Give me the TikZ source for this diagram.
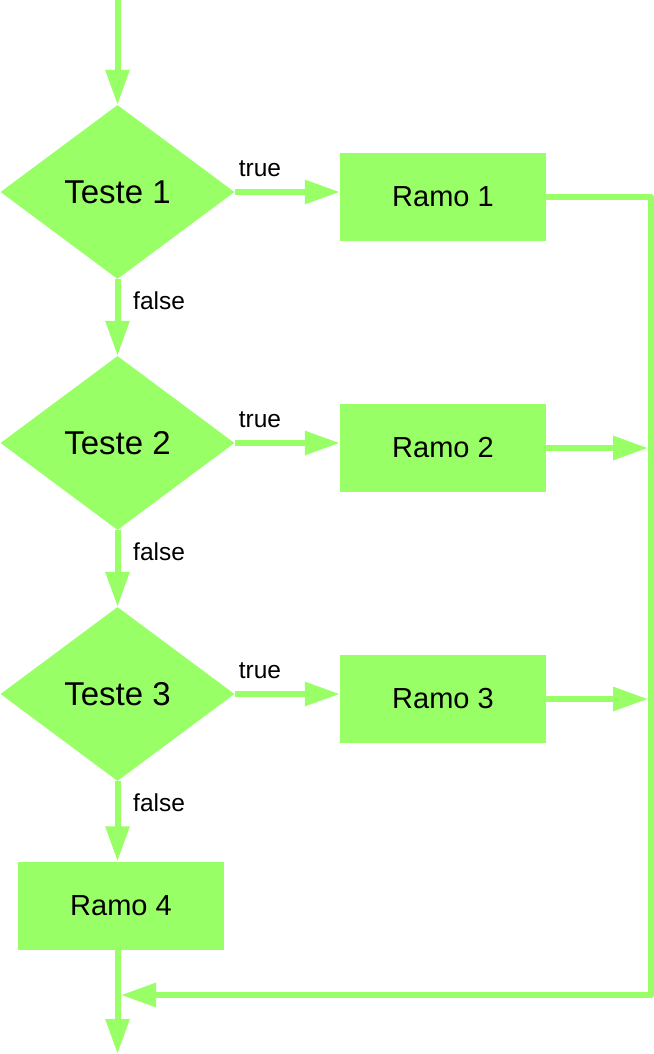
\documentclass[tikz,border=0pt]{standalone}
\usepackage{fontspec}
\setmainfont{Liberation Sans}
\usetikzlibrary{shapes.geometric,arrows.meta}
\definecolor{fc}{HTML}{99FF66}
\tikzset{
  dec/.style={diamond, fill=fc, draw=none, minimum width=234pt, minimum height=174pt, inner sep=0pt, font=\fontsize{33}{38}\selectfont},
  box/.style={rectangle, fill=fc, draw=none, minimum width=206pt, minimum height=88pt, inner sep=0pt, font=\fontsize{29}{34}\selectfont},
  lbl/.style={inner sep=0pt, font=\fontsize{24.5}{28}\selectfont},
  conn/.style={draw=fc, line width=6pt, line join=round},
  arr/.style={conn, -{Triangle[length=35pt,width=23pt]}},
}
\begin{document}
\begin{tikzpicture}[x=1pt,y=-1pt]
\useasboundingbox (0,0) rectangle (653,1054);
\node[dec] (d1) at (117.5,192) {Teste 1};
\node[dec] (d2) at (117.5,443) {Teste 2};
\node[dec] (d3) at (117.5,694) {Teste 3};
\node[box] (r1) at (443,197) {Ramo 1};
\node[box] (r2) at (443,448) {Ramo 2};
\node[box] (r3) at (443,699) {Ramo 3};
\node[box] (r4) at (121,905.5) {Ramo 4};
\node[lbl] (t1) at (260,169) {true};
\node[lbl] (t2) at (260,420) {true};
\node[lbl] (t3) at (260,671) {true};
\node[lbl, anchor=west] (f1) at (133,301) {false};
\node[lbl, anchor=west] (f2) at (133,552) {false};
\node[lbl, anchor=west] (f3) at (133,803) {false};
\coordinate (start) at (117.5,-5);
\coordinate (end) at (117.5,1054);
\coordinate (cr) at (651,197);
\coordinate (cb) at (651,995);
\coordinate (m2) at (648,448);
\coordinate (m3) at (648,699);
\coordinate (jn) at (121,995);
% top entry
\draw[arr] (start) -- (d1.north);
% true branches
\draw[arr] (d1.east) -- (d1.east -| r1.west);
\draw[arr] (d2.east) -- (d2.east -| r2.west);
\draw[arr] (d3.east) -- (d3.east -| r3.west);
% false branches
\draw[arr] (d1.south) -- (d2.north);
\draw[arr] (d2.south) -- (d3.north);
\draw[arr] (d3.south) -- (d3.south |- r4.north);
% merge
\draw[arr] (r1.east) -- (cr) -- (cb) -- (jn);
\draw[arr] (r2.east) -- (m2);
\draw[arr] (r3.east) -- (m3);
\draw[arr] (r4.south -| d3.south) -- (end);
\end{tikzpicture}
\end{document}
